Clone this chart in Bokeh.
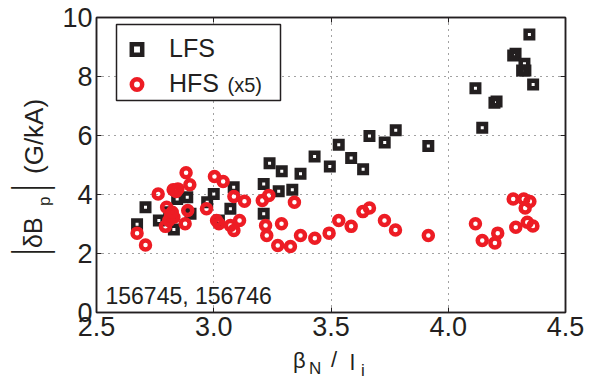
from bokeh.plotting import figure
from bokeh.models import (Range1d, FixedTicker, PrintfTickFormatter, LinearAxis,
                          Legend, LegendItem, Label, Div, BoxAnnotation)
from bokeh.layouts import column, row
from bokeh.embed import file_html
from bokeh.resources import INLINE

# ---- data ----
lfs_x = [2.673, 2.709, 2.766, 2.830, 2.844, 2.887, 2.901, 2.972, 3.000, 3.022,
         3.071, 3.085, 3.213, 3.213, 3.238, 3.290, 3.370, 3.277, 3.335, 3.430,
         3.495, 3.533, 3.586, 3.637, 3.664, 3.729, 3.776, 3.915, 4.116, 4.206,
         4.197, 4.145, 4.346, 4.287, 4.277, 4.325, 4.329, 4.315, 4.362, 2.810]
lfs_y = [2.99, 3.57, 3.12, 2.81, 3.85, 3.91, 3.35, 3.74, 4.02, 3.12,
         3.52, 4.25, 3.35, 4.36, 5.06, 4.79, 4.70, 4.11, 4.16, 5.29,
         4.95, 5.69, 5.24, 4.86, 5.98, 5.76, 6.18, 5.64, 7.60, 7.15,
         7.11, 6.26, 9.42, 8.77, 8.71, 8.43, 8.20, 8.20, 7.73, 3.40]

hfs_x = [2.673, 2.709, 2.763, 2.799, 2.794, 2.816, 2.827, 2.847, 2.882, 2.898,
         2.889, 2.878, 2.830, 2.808, 2.969, 3.003, 3.040, 3.012, 3.022, 3.086,
         3.131, 3.071, 3.086, 3.110, 3.207, 3.235, 3.221, 3.226, 3.289, 3.344,
         3.273, 3.327, 3.370, 3.431, 3.492, 3.533, 3.586, 3.636, 3.664, 3.728,
         3.775, 3.915, 4.116, 4.145, 4.199, 4.211, 4.277, 4.322, 4.348, 4.328,
         4.288, 4.337, 4.361, 2.823, 2.840]
hfs_y = [2.69, 2.29, 4.02, 3.57, 2.92, 3.29, 4.16, 4.19, 4.74, 4.33,
         3.46, 3.01, 3.23, 3.12, 3.52, 4.61, 4.44, 3.12, 3.01, 3.93,
         3.77, 2.95, 2.78, 3.12, 3.80, 3.97, 2.95, 2.61, 3.01, 3.74,
         2.27, 2.24, 2.61, 2.52, 2.69, 3.12, 2.92, 3.42, 3.54, 3.12,
         2.80, 2.61, 3.01, 2.44, 2.36, 2.69, 3.85, 3.85, 3.76, 3.54,
         2.89, 3.06, 2.93, 3.40, 4.10]

x_ticks = [2.5, 3.0, 3.5, 4.0, 4.5]
y_ticks = [0, 2, 4, 6, 8, 10]
x_grid = [3.0, 3.5, 4.0]
y_grid = [2, 4, 6, 8]

# ---- style / layout constants ----
INK = "#231f20"
RED = "#ed1c24"
FONT = "Liberation Sans"
YLAB_W = 56          # width of the y-label strip
XLAB_H = 33          # height of the x-label strip
FIG_W, FIG_H = 593 - YLAB_W, 383 - XLAB_H
FL, FR, FT, FB = 96, 565, 17, 312   # frame edges in canvas pixels

p = figure(width=FIG_W, height=FIG_H, output_backend="svg", toolbar_location=None,
           x_range=Range1d(2.5, 4.5), y_range=Range1d(0, 10),
           min_border_left=FL - YLAB_W, min_border_right=593 - FR,
           min_border_top=FT, min_border_bottom=FIG_H - FB)
p.background_fill_color = "white"
p.border_fill_color = "white"
p.outline_line_color = INK
p.outline_line_width = 1.5

for ax, ticks in ((p.xaxis[0], x_ticks), (p.yaxis[0], y_ticks)):
    ax.ticker = FixedTicker(ticks=ticks)
    ax.axis_line_color = INK
    ax.axis_line_width = 1.5
    ax.major_tick_in = 5
    ax.major_tick_out = 0
    ax.major_tick_line_color = INK
    ax.minor_tick_in = 0
    ax.minor_tick_out = 0
    ax.major_label_text_font = FONT
    ax.major_label_text_font_size = "27px"
    ax.major_label_text_color = INK
    ax.major_label_standoff = 4
p.xaxis[0].formatter = PrintfTickFormatter(format="%.1f")

for loc, ticks in (("above", x_ticks), ("right", y_ticks)):
    ax = LinearAxis(ticker=FixedTicker(ticks=ticks), axis_line_color=INK,
                    axis_line_width=1.5, major_tick_in=5, major_tick_out=0,
                    major_tick_line_color=INK, minor_tick_in=0, minor_tick_out=0,
                    major_label_text_font_size="1px", major_label_text_alpha=0,
                    major_label_standoff=0)
    p.add_layout(ax, loc)

p.xgrid.ticker = FixedTicker(ticks=x_grid)
p.ygrid.ticker = FixedTicker(ticks=y_grid)
for g in (p.xgrid, p.ygrid):
    g.grid_line_color = "#444444"
    g.grid_line_dash = "1 5"
    g.grid_line_width = 1

r_lfs = p.scatter(lfs_x, lfs_y, marker="square", size=7.5, fill_color=None,
                  line_color=INK, line_width=4.5, line_join="miter")
r_hfs = p.scatter(hfs_x, hfs_y, marker="circle", size=9, fill_color=None,
                  line_color=RED, line_width=4.5)

# legend box (frame-relative screen units), then the transparent legend on top
p.add_layout(BoxAnnotation(left=116 - FL, right=280 - FL, top=FB - 24, bottom=FB - 100,
                           left_units="screen", right_units="screen",
                           top_units="screen", bottom_units="screen",
                           fill_color="white", fill_alpha=1,
                           line_color=INK, line_width=1.5, line_alpha=1))


def frame_label(text, cx, cy, size):
    """Label placed by canvas pixel position (inside the frame)."""
    return Label(x=cx - FL, y=FB - cy, x_units="screen", y_units="screen",
                 text=text, text_align="left", text_baseline="alphabetic",
                 text_font=FONT, text_font_size=f"{size}px", text_color=INK)


p.add_layout(frame_label("(x5)", 227, 84, 20))
p.add_layout(frame_label("156745, 156746", 105, 295, 23))

legend = Legend(items=[LegendItem(label="LFS", renderers=[r_lfs]),
                       LegendItem(label="HFS", renderers=[r_hfs])],
                location=(20, 208), orientation="vertical",
                border_line_alpha=0, background_fill_alpha=0,
                padding=6, spacing=6, margin=0,
                glyph_width=29, glyph_height=26, label_standoff=18,
                label_text_font=FONT,
                label_text_font_size="25px", label_text_color=INK)
p.add_layout(legend, "center")

ASC = 0.8465  # baseline offset (in em) of a line-height:1 box, Liberation Sans


def piece(text, size, left, top, rotate=False, bar=False):
    tr = ""
    if rotate:
        tr = "transform-origin:0 0;transform:rotate(-90deg)" + (" scale(0.8,1.55);" if bar else ";")
    return (f'<span style="position:absolute;left:{left:.1f}px;top:{top:.1f}px;'
            f'font-size:{size}px;{tr}">{text}</span>')


def wrap(inner, w, h):
    return (f'<div style="position:relative;width:{w}px;height:{h}px;'
            f"font-family:'{FONT}';color:{INK};line-height:1;white-space:nowrap\">"
            f"{inner}</div>")


# y label |dB_p| (G/kA): (text, size, box-left x, start y, is_bar) in canvas px
y_pieces = [("|", 30, 6, 254.8, True), ("\u03b4B", 25, 42.5 - ASC * 25, 248, False),
            ("p", 17, 50 - ASC * 17, 206, False), ("|", 30, 6, 191.4, True),
            ("(G/kA)", 26, 42.5 - ASC * 26, 174, False)]
y_html = "".join(piece(t, s, lx, sy, rotate=True, bar=b) for t, s, lx, sy, b in y_pieces)
ydiv = Div(text=wrap(y_html, YLAB_W, FIG_H), width=YLAB_W, height=FIG_H, margin=0)

# x label beta_N / l_i: (text, size, left x, baseline y) in canvas px
x_pieces = [("\u03b2", 22, 293, 369), ("N", 17, 309, 374), ("/", 22, 331, 368),
            ("l", 22, 350, 371), ("i", 17, 361, 376)]
x_html = "".join(piece(t, s, lx, by - FIG_H - ASC * s) for t, s, lx, by in x_pieces)
xdiv = Div(text=wrap(x_html, 593, XLAB_H), width=593, height=XLAB_H, margin=0)

layout = column(row(ydiv, p, spacing=0), xdiv, spacing=0)

open("out.html", "w").write(file_html(layout, INLINE))
